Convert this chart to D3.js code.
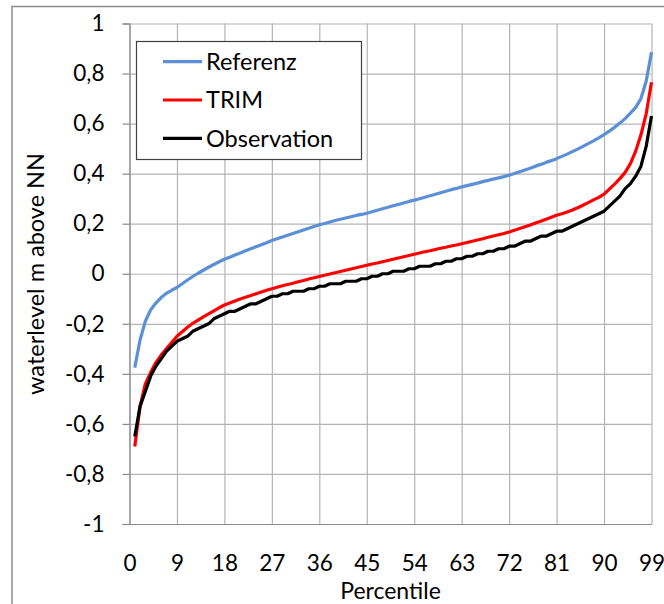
<!DOCTYPE html>
<html>
<head>
<meta charset="utf-8">
<script src="https://cdn.jsdelivr.net/npm/d3@7"></script>
<style>
  body { margin: 0; background: #fff; }
  svg { display: block; font-family: Lato, "Open Sans", sans-serif; }
</style>
</head>
<body>
<div id="chart"></div>
<script>
// percentiles 1..99
var percentiles = d3.range(1, 100);

var referenz = [
  -0.375, -0.265, -0.19, -0.145, -0.117, -0.095, -0.078, -0.066, -0.055, -0.04,
  -0.025, -0.011, 0.002, 0.014, 0.026, 0.037, 0.048, 0.058, 0.066, 0.075,
  0.083, 0.092, 0.1, 0.108, 0.116, 0.124, 0.133, 0.14, 0.147, 0.154,
  0.161, 0.168, 0.175, 0.182, 0.189, 0.196, 0.201, 0.207, 0.213, 0.218,
  0.223, 0.228, 0.233, 0.237, 0.242, 0.248, 0.254, 0.26, 0.266, 0.272,
  0.277, 0.283, 0.289, 0.294, 0.3, 0.306, 0.312, 0.318, 0.324, 0.33,
  0.336, 0.341, 0.347, 0.352, 0.357, 0.362, 0.368, 0.373, 0.378, 0.383,
  0.388, 0.394, 0.401, 0.408, 0.415, 0.422, 0.43, 0.437, 0.445, 0.452,
  0.46, 0.469, 0.478, 0.488, 0.498, 0.509, 0.52, 0.531, 0.543, 0.556,
  0.57, 0.585, 0.602, 0.62, 0.642, 0.665, 0.7, 0.77, 0.885
];

var trim = [
  -0.69, -0.53, -0.44, -0.395, -0.355, -0.325, -0.3, -0.275, -0.25, -0.232,
  -0.214, -0.198, -0.185, -0.172, -0.16, -0.148, -0.136, -0.125, -0.117, -0.109,
  -0.101, -0.094, -0.087, -0.08, -0.073, -0.066, -0.06, -0.054, -0.048, -0.043,
  -0.038, -0.032, -0.027, -0.021, -0.016, -0.011, -0.006, -0.001, 0.004, 0.009,
  0.014, 0.019, 0.024, 0.029, 0.034, 0.039, 0.043, 0.048, 0.053, 0.058,
  0.063, 0.068, 0.073, 0.078, 0.083, 0.088, 0.092, 0.097, 0.102, 0.106,
  0.111, 0.115, 0.12, 0.125, 0.13, 0.135, 0.14, 0.146, 0.151, 0.156,
  0.161, 0.167, 0.174, 0.181, 0.188, 0.195, 0.203, 0.21, 0.218, 0.226,
  0.234, 0.24, 0.247, 0.255, 0.264, 0.274, 0.284, 0.295, 0.305, 0.318,
  0.338, 0.358, 0.38, 0.405, 0.44, 0.49, 0.555, 0.64, 0.765
];

var observation = [
  -0.65, -0.53, -0.47, -0.41, -0.37, -0.34, -0.31, -0.29, -0.27, -0.26,
  -0.25, -0.23, -0.22, -0.21, -0.2, -0.18, -0.17, -0.16, -0.15, -0.15,
  -0.14, -0.13, -0.12, -0.12, -0.11, -0.1, -0.09, -0.09, -0.08, -0.08,
  -0.07, -0.07, -0.07, -0.06, -0.06, -0.05, -0.05, -0.04, -0.04, -0.04,
  -0.03, -0.03, -0.03, -0.02, -0.02, -0.01, -0.01, 0, 0, 0.01,
  0.01, 0.01, 0.02, 0.02, 0.03, 0.03, 0.03, 0.04, 0.04, 0.05,
  0.05, 0.06, 0.06, 0.07, 0.07, 0.08, 0.08, 0.09, 0.09, 0.1,
  0.1, 0.11, 0.11, 0.12, 0.13, 0.13, 0.14, 0.15, 0.15, 0.16,
  0.17, 0.17, 0.18, 0.19, 0.2, 0.21, 0.22, 0.23, 0.24, 0.25,
  0.27, 0.29, 0.31, 0.34, 0.36, 0.39, 0.43, 0.51, 0.63
];

var seriesNames = ["Referenz", "TRIM", "Observation"];
var seriesColors = ["#5b8fd6", "#ff0000", "#000000"];
var xTicks = [0, 9, 18, 27, 36, 45, 54, 63, 72, 81, 90, 99];
var yTicks = [-1, -0.8, -0.6, -0.4, -0.2, 0, 0.2, 0.4, 0.6, 0.8, 1];

var width = 664, height = 604;
var plotLeft = 129.5, plotRight = 651.5, plotTop = 23.5, plotBottom = 524;

var x = d3.scaleLinear().domain([0, 99]).range([plotLeft, plotRight]);
var y = d3.scaleLinear().domain([-1, 1]).range([plotBottom, plotTop]);

var fmt = function(d) { return String(Math.round(d * 10) / 10).replace(".", ","); };

var svg = d3.select("#chart").append("svg")
    .attr("width", width)
    .attr("height", height);

svg.append("rect")
    .attr("width", width).attr("height", height)
    .style("fill", "#fff");

// outer chart border (clipped on right / bottom)
svg.append("rect")
    .attr("x", 12).attr("y", 6.5)
    .attr("width", 800).attr("height", 800)
    .style("fill", "none")
    .style("stroke", "#8c8c8c")
    .style("stroke-width", 1.5);

// horizontal grid
svg.append("g")
    .attr("class", "ygrid")
    .attr("transform", "translate(" + plotLeft + ",0)")
    .call(d3.axisLeft(y).tickValues(yTicks).tickSize(-(plotRight - plotLeft)).tickFormat(""))
    .call(function(g) { g.select(".domain").remove(); })
    .selectAll("line").style("stroke", "#b4b4b4").style("stroke-width", 1.2);

// vertical grid
svg.append("g")
    .attr("class", "xgrid")
    .attr("transform", "translate(0," + plotBottom + ")")
    .call(d3.axisBottom(x).tickValues(xTicks).tickSize(-(plotBottom - plotTop)).tickFormat(""))
    .call(function(g) { g.select(".domain").remove(); })
    .selectAll("line").style("stroke", "#b4b4b4").style("stroke-width", 1.2);

// y axis with outer ticks and labels
var yAxis = svg.append("g")
    .attr("transform", "translate(" + plotLeft + ",0)")
    .call(d3.axisLeft(y).tickValues(yTicks).tickSize(7).tickPadding(18).tickFormat(fmt));
yAxis.select(".domain").style("stroke", "#8a8a8a").style("stroke-width", 1.2);
yAxis.selectAll("line").style("stroke", "#8a8a8a").style("stroke-width", 1.2);
yAxis.selectAll("text").style("font-size", "22.5px").style("fill", "#000").style("font-family", "Lato");

// x axis labels
var xAxis = svg.append("g")
    .attr("transform", "translate(0," + plotBottom + ")")
    .call(d3.axisBottom(x).tickValues(xTicks).tickSize(0).tickPadding(31).tickFormat(d3.format("d")));
xAxis.select(".domain").style("stroke", "#8a8a8a").style("stroke-width", 1.2);
xAxis.selectAll("text").style("font-size", "22.5px").style("fill", "#000").style("font-family", "Lato");

// axis titles
svg.append("text")
    .attr("x", (plotLeft + plotRight) / 2)
    .attr("y", 599)
    .attr("text-anchor", "middle")
    .style("font-size", "23px")
    .text("Percentile");

svg.append("text")
    .attr("transform", "translate(43.5,274) rotate(-90)")
    .attr("text-anchor", "middle")
    .style("font-size", "23.5px")
    .text("waterlevel m above NN");

// lines
var series = [referenz, trim, observation];
var line = d3.line()
    .x(function(d, i) { return x(percentiles[i]); })
    .y(function(d) { return y(d); });

svg.selectAll("path.series")
    .data(series)
    .enter().append("path")
        .attr("class", "series")
        .attr("d", line)
        .style("fill", "none")
        .style("stroke", function(d, i) { return seriesColors[i]; })
        .style("stroke-width", 3.2)
        .style("stroke-linejoin", "round");

// legend
var legend = svg.append("g").attr("class", "legend");
legend.append("rect")
    .attr("x", 136.5).attr("y", 41.5)
    .attr("width", 225).attr("height", 118)
    .style("fill", "#fff")
    .style("stroke", "#404040")
    .style("stroke-width", 1.2);

var items = legend.selectAll("g.item")
    .data(seriesNames)
    .enter().append("g")
        .attr("class", "item")
        .attr("transform", function(d, i) { return "translate(0," + (61.7 + i * 38.3) + ")"; });
items.append("line")
    .attr("x1", 163).attr("x2", 202)
    .style("stroke", function(d, i) { return seriesColors[i]; })
    .style("stroke-width", 3.2);
items.append("text")
    .attr("x", 206)
    .attr("dy", "0.35em")
    .style("font-size", "23.5px")
    .text(function(d) { return d; });
</script>
</body>
</html>
